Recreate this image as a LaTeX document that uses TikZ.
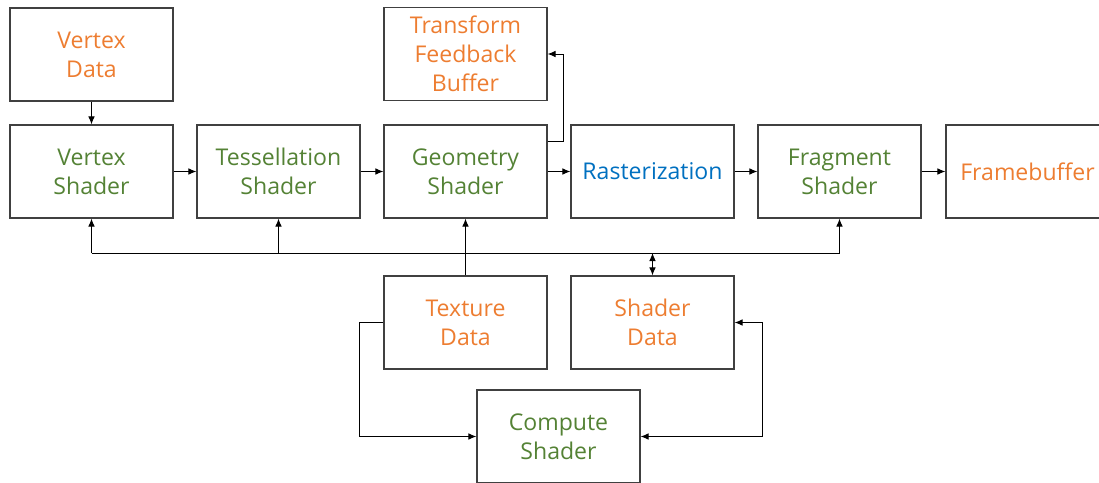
\documentclass[tikz,border=0pt]{standalone}
\usepackage{fontspec}
\setmainfont{Open Sans}
\usetikzlibrary{arrows.meta}
\definecolor{cOrange}{HTML}{ED7D31}
\definecolor{cGreen}{HTML}{548235}
\definecolor{cBlue}{HTML}{0070C0}
\definecolor{cBorder}{HTML}{404040}
\tikzset{
  box/.style={draw=cBorder, line width=0.9pt, minimum width=122.25pt, minimum height=69.75pt,
    align=center, inner sep=0pt, font=\fontsize{17.3}{21.75}\selectfont},
  dat/.style={box, text=cOrange},
  shd/.style={box, text=cGreen},
  ras/.style={box, text=cBlue},
  arr/.style={draw=black, line width=0.75pt, -{Latex[length=6pt,width=5pt]}},
  dbl/.style={draw=black, line width=0.75pt, {Latex[length=6pt,width=5pt]}-{Latex[length=6pt,width=5pt]}},
  ln/.style={draw=black, line width=0.75pt}
}
\begin{document}
\begin{tikzpicture}[x=0.75pt, y=-0.75pt]
\useasboundingbox (0,0) rectangle (1099,482);
\clip (0,0) rectangle (1099,482);
\node[dat] (VD) at (91.5,54.5) {Vertex\\Data};
\node[dat] (TFB) at (465.5,54) {Transform\\Feedback\\Buffer};
\node[shd] (VS) at (91.5,171.5) {Vertex\\Shader};
\node[shd] (TS) at (278.5,171.5) {Tessellation\\Shader};
\node[shd] (GS) at (465.5,171.5) {Geometry\\Shader};
\node[ras] (RA) at (652.5,171.5) {Rasterization};
\node[shd] (FS) at (839.5,171.5) {Fragment\\Shader};
\node[dat] (FB) at (1027.5,171.5) {Framebuffer};
\node[dat] (TD) at (465.5,322.5) {Texture\\Data};
\node[dat] (SD) at (652.5,322.5) {Shader\\Data};
\node[shd] (CS) at (558.5,436.5) {Compute\\Shader};
\coordinate (busL) at (91.5,253);
\coordinate (busR) at (839.5,253);
\draw[arr] (VD) -- (VS);
\draw[arr] (VS) -- (TS);
\draw[arr] (TS) -- (GS);
\draw[arr] (GS) -- (RA);
\draw[arr] (RA) -- (FS);
\draw[arr] (FS) -- (FB);
\draw[arr] ([yshift=-12.75pt]GS.north east) -- ++(16,0) |- (TFB.east);
\draw[ln] (busL) -- (busR);
\draw[arr] (busL) -- (VS.south);
\draw[arr] (TS.south |- busL) -- (TS.south);
\draw[arr] (busR) -- (FS.south);
\draw[arr] (TD.north) -- (GS.south);
\draw[dbl] (SD.north |- busL) -- (SD.north);
\draw[arr] (TD.west) -- ++(-24,0) |- (CS.west);
\draw[dbl] (CS.east) -- ++(122,0) |- (SD.east);
\end{tikzpicture}
\end{document}
